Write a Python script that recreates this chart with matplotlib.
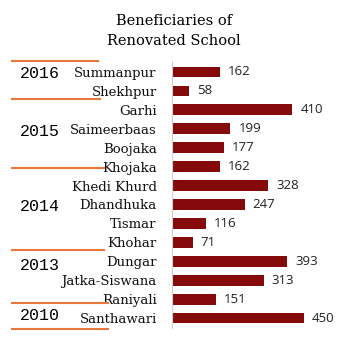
import matplotlib.pyplot as plt

# datos
villages = ['Summanpur', 'Shekhpur', 'Garhi', 'Saimeerbaas', 'Boojaka', 'Khojaka',
            'Khedi Khurd', 'Dhandhuka', 'Tismar', 'Khohar', 'Dungar', 'Jatka-Siswana',
            'Raniyali', 'Santhawari']
beneficiaries = [162, 58, 410, 199, 177, 162, 328, 247, 116, 71, 393, 313, 151, 450]
years = ['2016', '2015', '2014', '2013', '2010']
year_rows = [0.1, 3.15, 7.1, 10.25, 12.85]          # fila donde va cada año
separators = [-0.6, 1.44, 5.07, 9.4, 12.2, 13.58]    # lineas naranjas entre grupos
sep_ends = [98, 100, 104, 104, 108, 108]             # largo de cada linea (px)

W, H = 343, 346
fig = plt.figure(figsize=(W / 100, H / 100), dpi=100)
ax = fig.add_axes([172 / W, 1 - 327.5 / H, 160 / W, 266.5 / H])

rows = range(len(villages))
ax.barh(rows, beneficiaries, height=0.57, color='#840a0c')
ax.set_xlim(0, 545)
ax.set_ylim(13.5, -0.58)

# valores al final de cada barra
for i, v in zip(rows, beneficiaries):
    ax.text(v + 27, i, str(v), va='center', ha='left', fontsize=9.5,
            family='Open Sans', color='#222222')

ax.set_yticks(list(rows))
ax.set_yticklabels(villages, fontsize=9.5, family='DejaVu Serif', color='#111111')
ax.tick_params(axis='y', length=0, pad=11)
ax.set_xticks([])
for s in ['top', 'right', 'bottom']:
    ax.spines[s].set_visible(False)
ax.spines['left'].set_color('#d0d0d0')
ax.spines['left'].set_linewidth(0.8)

# columna izquierda con los años y las lineas naranjas
ax_l = fig.add_axes([0, 1 - 327.5 / H, 172 / W, 266.5 / H])
ax_l.set_xlim(0, 172)
ax_l.set_ylim(13.5, -0.58)
ax_l.axis('off')
for y, r in zip(years, year_rows):
    ax_l.text(40, r, y, fontsize=12, family='Liberation Mono', ha='center', va='center',
              color='#000000')
for s, e in zip(separators, sep_ends):
    ax_l.plot([12, e], [s, s], color='#e8773a', lw=1.5, clip_on=False)

fig.text(174 / W, 1 - 31 / H, 'Beneficiaries of\nRenovated School', ha='center', va='center',
         fontsize=10.5, family='DejaVu Serif', linespacing=1.5, color='#000000')

fig.savefig('out.png', dpi=100)
